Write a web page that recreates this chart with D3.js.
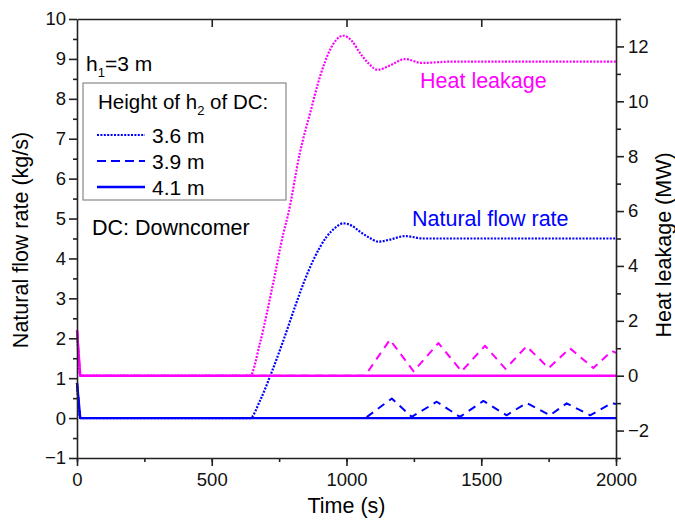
<!DOCTYPE html>
<html>
<head>
<meta charset="utf-8">
<script src="https://cdn.jsdelivr.net/npm/d3@7"></script>
<style>
  body { margin: 0; background: #fff; }
  svg { font-family: "Liberation Sans", Arial, sans-serif; }
  .axis path, .axis line { stroke: #222; }
  .axis text { font-size: 18.5px; fill: #111; }
</style>
</head>
<body>
<div id="wrapper"></div>
<script>
// ---- data ----
// 3.6 m (dotted)
const flowT36 = [0, 12, 642, 680, 716, 766, 809, 840, 877, 926, 960, 988, 1020, 1050, 1085, 1118, 1160, 1217, 1285, 1400, 2000];
const flowV36 = [0.88, 0, 0, 0.45, 1.04, 1.95, 2.79, 3.37, 3.96, 4.54, 4.78, 4.88, 4.82, 4.67, 4.52, 4.42, 4.47, 4.56, 4.50, 4.50, 4.50];
const heatT36 = [0, 12, 642, 679, 728, 766, 784, 827, 865, 902, 939, 988, 1020, 1050, 1080, 1115, 1160, 1217, 1279, 1400, 2000];
const heatV36 = [1.65, 0, 0, 1.19, 3.38, 5.2, 5.9, 8.12, 9.57, 10.91, 11.88, 12.39, 12.2, 11.76, 11.4, 11.15, 11.3, 11.54, 11.4, 11.45, 11.45];
// 3.9 m (dashed)
const flowT39 = [0, 12, 1070, 1168, 1242, 1335, 1421, 1508, 1594, 1668, 1755, 1817, 1904, 1985, 2000];
const flowV39 = [0.88, 0, 0, 0.49, 0.03, 0.41, 0.03, 0.43, 0.07, 0.38, 0.07, 0.37, 0.07, 0.38, 0.35];
const heatT39 = [0, 12, 1069, 1161, 1249, 1341, 1427, 1514, 1590, 1668, 1750, 1829, 1916, 1985, 2000];
const heatV39 = [1.65, 0, 0, 1.31, 0.16, 1.19, 0.16, 1.09, 0.25, 1.07, 0.28, 1.0, 0.28, 0.9, 0.83];
// 4.1 m (solid)
const flowT41 = [0, 12, 2000];
const flowV41 = [0.88, 0, 0];
const heatT41 = [0, 12, 2000];
const heatV41 = [1.65, 0, 0];

const legendLabels = ['3.6 m', '3.9 m', '4.1 m'];
const xTicks = [0, 500, 1000, 1500, 2000];
const yLeftTicks = [-1, 0, 1, 2, 3, 4, 5, 6, 7, 8, 9, 10];
const yRightTicks = [-2, 0, 2, 4, 6, 8, 10, 12];

const blue = '#0000ff', pink = '#ff00ff';
const styles = {
    '3.6 m': {dash: '2,1.4', width: 2.2, curve: d3.curveMonotoneX},
    '3.9 m': {dash: '8,6', width: 2, curve: d3.curveLinear},
    '4.1 m': {dash: null, width: 2.4, curve: d3.curveLinear}
};

let svg = d3.select('#wrapper').append('svg').attr('width', 675).attr('height', 522);

let x0 = 77, x1 = 616, y0 = 19, y1 = 458;

let xScale = d3.scaleLinear().domain([0, 2000]).range([x0, x1]);
let yLeft = d3.scaleLinear().domain([-1, 10]).range([y1, y0]);
let yRight = d3.scaleLinear().domain([-3, 13]).range([y1, y0]);

let zip = (t, v) => t.map((d, i) => [d, v[i]]);

let series = [
    {name: '3.6 m', color: pink, y: yRight, data: zip(heatT36, heatV36)},
    {name: '3.6 m', color: blue, y: yLeft, data: zip(flowT36, flowV36)},
    {name: '3.9 m', color: pink, y: yRight, data: zip(heatT39, heatV39)},
    {name: '3.9 m', color: blue, y: yLeft, data: zip(flowT39, flowV39)},
    {name: '4.1 m', color: pink, y: yRight, data: zip(heatT41, heatV41)},
    {name: '4.1 m', color: blue, y: yLeft, data: zip(flowT41, flowV41)}
];

// lines
let lineGroup = svg.append('g');
series.forEach(s => {
    let lineGen = d3.line().x(d => xScale(d[0])).y(d => s.y(d[1])).curve(styles[s.name].curve);
    lineGroup.append('path')
        .attr('d', lineGen(s.data))
        .attr('fill', 'none')
        .attr('stroke', s.color)
        .attr('stroke-width', styles[s.name].width)
        .attr('stroke-linejoin', 'round')
        .attr('stroke-dasharray', styles[s.name].dash);
});

// axes
let minorX = d3.range(0, 2001, 250);
let bottom = svg.append('g').classed('axis', true).attr('transform', 'translate(0,' + y1 + ')');
bottom.call(d3.axisBottom(xScale).tickValues(minorX).tickSize(4).tickFormat(''));
bottom.call(g => g.select('.domain').remove());
svg.append('g').classed('axis', true).attr('transform', 'translate(0,' + y1 + ')')
    .call(d3.axisBottom(xScale).tickValues(xTicks).tickSize(8).tickSizeOuter(0).tickPadding(7).tickFormat(d3.format('d')));

svg.append('g').classed('axis', true).attr('transform', 'translate(0,' + y0 + ')')
    .call(d3.axisBottom(xScale).tickValues([500, 1000, 1500]).tickSize(8).tickSizeOuter(0).tickFormat(''));

svg.append('g').classed('axis', true).attr('transform', 'translate(' + x0 + ',0)')
    .call(d3.axisLeft(yLeft).tickValues(d3.range(-0.5, 10, 1)).tickSize(4).tickFormat(''))
    .call(g => g.select('.domain').remove());
svg.append('g').classed('axis', true).attr('transform', 'translate(' + x0 + ',0)')
    .call(d3.axisLeft(yLeft).tickValues(yLeftTicks).tickSize(8).tickSizeOuter(0).tickPadding(3));

svg.append('g').classed('axis', true).attr('transform', 'translate(' + x1 + ',0)')
    .call(d3.axisRight(yRight).tickValues(d3.range(-3, 14, 2)).tickSize(5).tickFormat(''))
    .call(g => g.select('.domain').remove());
svg.append('g').classed('axis', true).attr('transform', 'translate(' + x1 + ',0)')
    .call(d3.axisRight(yRight).tickValues(yRightTicks).tickSize(8).tickSizeOuter(0).tickPadding(4));

svg.selectAll('.axis path, .axis line').attr('stroke-width', 1.6);

// axis titles
svg.append('text').text('Time (s)')
    .attr('x', (x0 + x1) / 2).attr('y', 513).attr('text-anchor', 'middle').style('font-size', '21.5px');
svg.append('text').text('Natural flow rate (kg/s)')
    .attr('transform', 'translate(28,' + 240 + ') rotate(-90)').attr('text-anchor', 'middle').style('font-size', '21.5px');
svg.append('text').text('Heat leakage (MW)')
    .attr('transform', 'translate(671,' + 245 + ') rotate(-90)').attr('text-anchor', 'middle').style('font-size', '21.5px');

// annotations
let h1 = svg.append('text').attr('x', 86).attr('y', 71).style('font-size', '21px');
h1.append('tspan').text('h');
h1.append('tspan').text('1').attr('dy', 6).style('font-size', '13px');
h1.append('tspan').text('=3 m').attr('dy', -6);

svg.append('text').text('DC: Downcomer').attr('x', 92).attr('y', 235).style('font-size', '21.5px');
svg.append('text').text('Heat leakage').attr('x', 420).attr('y', 88).attr('fill', pink).style('font-size', '21.5px');
svg.append('text').text('Natural flow rate').attr('x', 412).attr('y', 226).attr('fill', blue).style('font-size', '21.5px');

// legend
let legend = svg.append('g');
legend.append('rect').attr('x', 83).attr('y', 83).attr('width', 203).attr('height', 117)
    .attr('fill', '#fff').attr('stroke', '#888').attr('stroke-width', 1.2);
let lt = legend.append('text').attr('x', 98).attr('y', 109).style('font-size', '20.5px');
lt.append('tspan').text('Height of h');
lt.append('tspan').text('2').attr('dy', 6).style('font-size', '13px');
lt.append('tspan').text(' of DC:').attr('dy', -6);

let items = legend.selectAll('.item').data(legendLabels).enter().append('g').classed('item', true)
    .attr('transform', (d, i) => 'translate(0,' + (135 + i * 26) + ')');
items.append('line').attr('x1', 97).attr('x2', 145).attr('y1', 0).attr('y2', 0)
    .attr('stroke', blue)
    .attr('stroke-width', d => styles[d].width)
    .attr('stroke-dasharray', d => d == '3.9 m' ? '9,5' : styles[d].dash);
items.append('text').text(d => d).attr('x', 152).attr('y', 8).style('font-size', '21px');
</script>
</body>
</html>
